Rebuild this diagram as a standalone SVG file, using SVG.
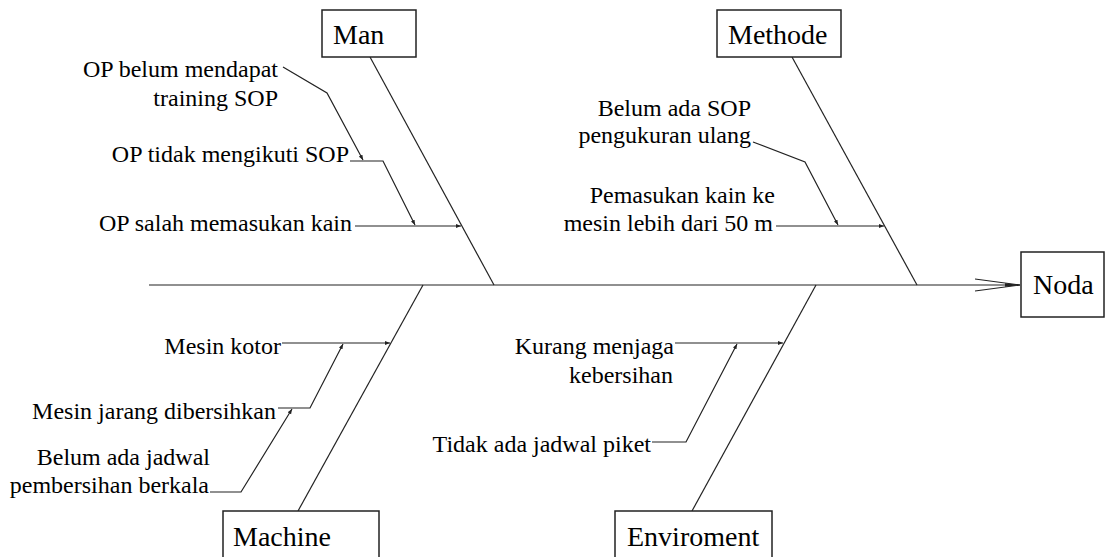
<svg xmlns="http://www.w3.org/2000/svg" width="1105" height="557" viewBox="0 0 1105 557">
<defs>
<style>
.box{fill:#fff;stroke:#222;stroke-width:1.5}
.ln{fill:none;stroke:#222;stroke-width:1.2}
.t{font-family:'Liberation Serif','Times New Roman',serif;font-size:24px;fill:#000;text-anchor:end}
.h{font-family:'Liberation Serif','Times New Roman',serif;font-size:28px;fill:#000}
</style>
<marker id="ah" viewBox="0 0 10 10" refX="10" refY="5" markerWidth="5" markerHeight="5" markerUnits="userSpaceOnUse" orient="auto">
<path d="M0,1 L10,5 L0,9 Z" fill="#222"/>
</marker>
</defs>
<rect width="1105" height="557" fill="#fff"/>
<g id="connectors">
<line class="ln" x1="149" y1="285" x2="1020" y2="285"/>
<path class="ln" d="M975,279 L1020,285 L975,291"/>
<path d="M1005,283.3 L1020,285 L1005,286.7 Z" fill="#222"/>
<line class="ln" x1="370" y1="57" x2="494" y2="285"/>
<line class="ln" x1="792" y1="57" x2="917" y2="285"/>
<line class="ln" x1="423" y1="285" x2="298" y2="511"/>
<line class="ln" x1="816" y1="285" x2="692" y2="511"/>
<polyline class="ln" points="355,226 461,226" marker-end="url(#ah)"/>
<polyline class="ln" points="350,161 383,161 415,225" marker-end="url(#ah)"/>
<polyline class="ln" points="283,67 327,93 363,160" marker-end="url(#ah)"/>
<polyline class="ln" points="776,226 884,226" marker-end="url(#ah)"/>
<polyline class="ln" points="753,142 805,162 838,225" marker-end="url(#ah)"/>
<polyline class="ln" points="282,343 390,343" marker-end="url(#ah)"/>
<polyline class="ln" points="278,408 310,408 343,344" marker-end="url(#ah)"/>
<polyline class="ln" points="210,492 241,492 292,409" marker-end="url(#ah)"/>
<polyline class="ln" points="675,343 783,343" marker-end="url(#ah)"/>
<polyline class="ln" points="652,442 686,442 737,344" marker-end="url(#ah)"/>
</g>
<g id="man"><rect class="box" x="322" y="10" width="94" height="47"/><text class="h" x="333" y="44">Man</text></g>
<g id="methode"><rect class="box" x="717" y="10" width="124" height="47"/><text class="h" x="728" y="44">Methode</text></g>
<g id="machine"><rect class="box" x="223" y="511" width="156" height="50"/><text class="h" x="233" y="546">Machine</text></g>
<g id="enviroment"><rect class="box" x="615" y="511" width="157" height="50"/><text class="h" x="627" y="546">Enviroment</text></g>
<g id="noda"><rect class="box" x="1021" y="252" width="83" height="65"/><text class="h" x="1033" y="294">Noda</text></g>
<g id="man-causes">
<text class="t" x="278" y="77">OP belum mendapat</text>
<text class="t" x="278" y="106">training SOP</text>
<text class="t" x="349" y="162">OP tidak mengikuti SOP</text>
<text class="t" x="352" y="231">OP salah memasukan kain</text>
</g>
<g id="methode-causes">
<text class="t" x="751" y="116">Belum ada SOP</text>
<text class="t" x="751" y="143">pengukuran ulang</text>
<text class="t" x="775" y="203">Pemasukan kain ke</text>
<text class="t" x="773" y="231">mesin lebih dari 50 m</text>
</g>
<g id="machine-causes">
<text class="t" x="281" y="354">Mesin kotor</text>
<text class="t" x="276" y="419">Mesin jarang dibersihkan</text>
<text class="t" x="210" y="465">Belum ada jadwal</text>
<text class="t" x="209" y="493">pembersihan berkala</text>
</g>
<g id="enviroment-causes">
<text class="t" x="674" y="354">Kurang menjaga</text>
<text class="t" x="673" y="383">kebersihan</text>
<text class="t" x="651" y="452">Tidak ada jadwal piket</text>
</g>
</svg>
